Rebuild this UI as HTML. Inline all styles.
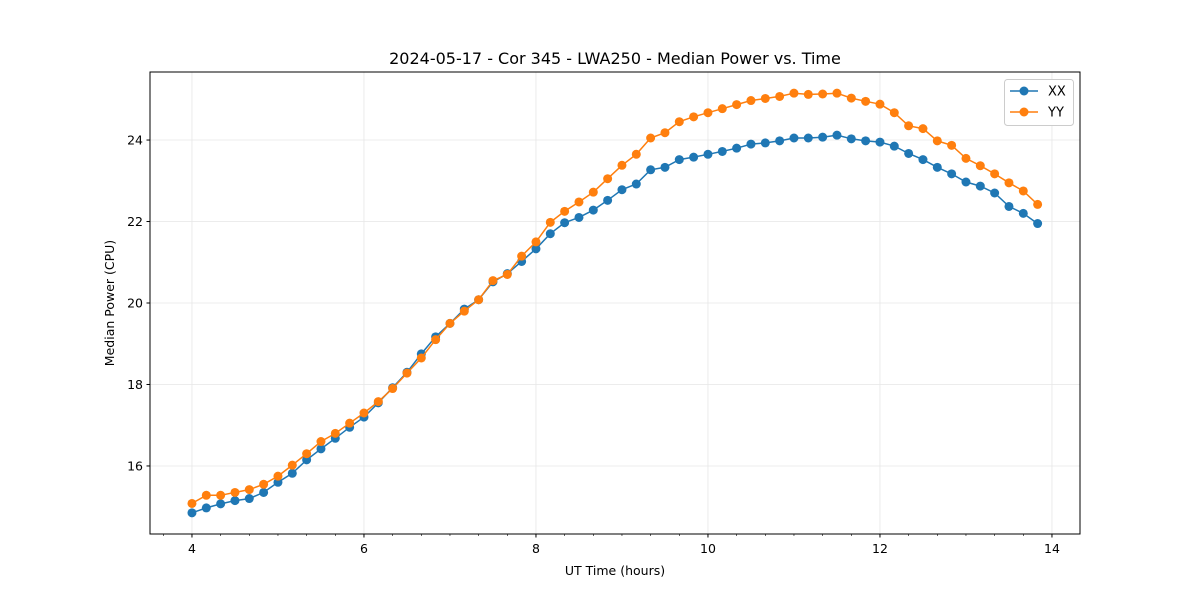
<!DOCTYPE html>
<html><head><meta charset="utf-8"><style>body{margin:0;background:#fff}svg{display:block;font-family:"DejaVu Sans","Liberation Sans",sans-serif}</style></head>
<body>
<svg id="c" width="1200" height="600"></svg>
<script>
const xxValues=[14.85,14.97,15.07,15.15,15.2,15.35,15.6,15.82,16.15,16.42,16.68,16.95,17.2,17.55,17.92,18.3,18.75,19.17,19.5,19.85,20.08,20.52,20.72,21.02,21.33,21.7,21.97,22.1,22.28,22.52,22.78,22.92,23.27,23.33,23.52,23.58,23.65,23.72,23.8,23.9,23.93,23.98,24.05,24.05,24.07,24.12,24.03,23.98,23.95,23.85,23.67,23.52,23.33,23.17,22.97,22.87,22.7,22.37,22.2,21.95];
const yyValues=[15.08,15.28,15.28,15.35,15.42,15.55,15.75,16.02,16.3,16.6,16.8,17.05,17.3,17.58,17.9,18.28,18.65,19.1,19.5,19.8,20.08,20.55,20.7,21.15,21.5,21.98,22.25,22.48,22.72,23.05,23.38,23.65,24.05,24.18,24.45,24.57,24.67,24.77,24.87,24.97,25.02,25.07,25.15,25.12,25.13,25.15,25.03,24.95,24.88,24.67,24.35,24.28,23.98,23.87,23.55,23.37,23.17,22.95,22.75,22.42];
const startHour=4, stepHour=1/6;
const xTicks=[4,6,8,10,12,14];
const yTicks=[16,18,20,22,24];
const L=150,R=1080,T=72,B=534;
const x0=3.512,x1=14.326,y0=14.33,y1=25.67;
const sx=v=>L+(v-x0)/(x1-x0)*(R-L);
const sy=v=>B-(v-y0)/(y1-y0)*(B-T);
const svg=document.getElementById('c');
const NS='http://www.w3.org/2000/svg';
function mk(t,a,p){const e=document.createElementNS(NS,t);for(const k in a)e.setAttribute(k,a[k]);(p||svg).appendChild(e);return e;}
let t=mk('text',{x:615,y:64,'text-anchor':'middle','font-size':16,fill:'#000'});


t.textContent='2024-05-17 - Cor 345 - LWA250 - Median Power vs. Time';
xTicks.forEach(v=>{const X=sx(v);
 let g=mk('line',{x1:X,x2:X,y1:T,y2:B,stroke:'#e6e6e6','stroke-width':0.8});
 
 
 mk('line',{x1:X,x2:X,y1:B,y2:B+3.5,stroke:'#000'});
 let l=mk('text',{x:X,y:B+19,'text-anchor':'middle','font-size':12.5});
 
 
 l.textContent=v;});
for(let v=3+2/3;v<14.3;v+=1/3){if(Math.abs(v-Math.round(v))<0.01&&Math.round(v)%2==0)continue;const X=sx(v);mk('line',{x1:X,x2:X,y1:B,y2:B+2,stroke:'#000','stroke-width':0.6});}
yTicks.forEach(v=>{const Y=sy(v);
 let g=mk('line',{x1:L,x2:R,y1:Y,y2:Y,stroke:'#e6e6e6','stroke-width':0.8});
 
 
 mk('line',{x1:L-3.5,x2:L,y1:Y,y2:Y,stroke:'#000'});
 let l=mk('text',{x:L-7,y:Y+4.5,'text-anchor':'end','font-size':12.5});
 
 
 l.textContent=v;});
function series(vals,color,name){
 const pts=vals.map((v,i)=>sx(startHour+i*stepHour).toFixed(1)+','+sy(v).toFixed(1));
 let p=mk('polyline',{points:pts.join(' '),fill:'none',stroke:color,'stroke-width':1.5});
 
 
 vals.forEach((v,i)=>{let c=mk('circle',{cx:sx(startHour+i*stepHour),cy:sy(v),r:4.5,fill:color});
 
 });
}
series(xxValues,'#1f77b4','xx');
series(yyValues,'#ff7f0e','yy');
let f=mk('rect',{x:L,y:T,width:R-L,height:B-T,fill:'none',stroke:'#000','stroke-width':1});


let xl=mk('text',{x:615,y:575,'text-anchor':'middle','font-size':12.5});


xl.textContent='UT Time (hours)';
let yl=mk('text',{x:114,y:303,'text-anchor':'middle','font-size':12.5,transform:'rotate(-90 114 303)'});


yl.textContent='Median Power (CPU)';
let lg=mk('g',{});


mk('rect',{x:1004.5,y:79.5,width:69,height:46,rx:3,fill:'#fff',stroke:'#ccc'},lg);
[['XX','#1f77b4',91],['YY','#ff7f0e',112]].forEach(([n,c,y])=>{
 let e=mk('g',{},lg);
 
 
 mk('line',{x1:1010,x2:1038,y1:y,y2:y,stroke:c,'stroke-width':1.5},e);
 mk('circle',{cx:1024,cy:y,r:4.5,fill:c},e);
 let tx=mk('text',{x:1048,y:y+4.5,'font-size':13},e);tx.textContent=n;});
</script>
</body></html>
